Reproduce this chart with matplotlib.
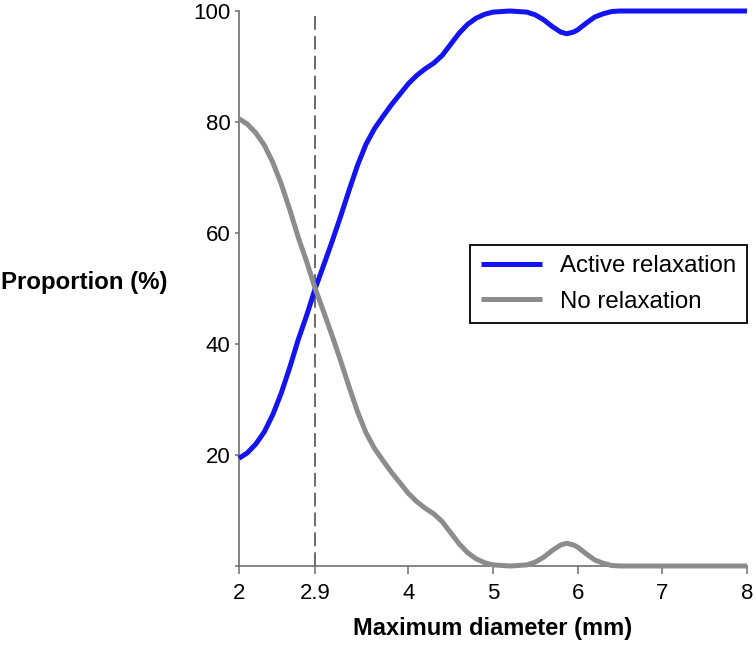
import matplotlib
matplotlib.use('Agg')
import matplotlib.pyplot as plt

plt.rcParams['font.family'] = ['Liberation Sans', 'DejaVu Sans']

# maximum diameter (mm)
diameter = [2.0, 2.1, 2.2, 2.3, 2.4, 2.5, 2.6, 2.7, 2.8, 2.9,
            3.0, 3.1, 3.2, 3.3, 3.4, 3.5, 3.6, 3.7, 3.8, 3.9,
            4.0, 4.1, 4.2, 4.3, 4.4, 4.5, 4.6, 4.7, 4.8, 4.9,
            5.0, 5.2, 5.4, 5.5, 5.6, 5.7, 5.8, 5.87, 5.95, 6.0,
            6.1, 6.2, 6.3, 6.4, 6.5, 7.0, 8.0]

# proportion (%) with active relaxation
active = [19.4, 20.4, 22.0, 24.2, 27.3, 31.2, 35.8, 40.8, 45.2, 50.0,
          54.2, 58.5, 63.0, 67.7, 72.2, 76.0, 78.8, 81.0, 83.1, 85.0,
          86.9, 88.4, 89.6, 90.6, 92.0, 94.0, 96.0, 97.6, 98.7, 99.4,
          99.8, 100.0, 99.8, 99.3, 98.4, 97.2, 96.2, 95.9, 96.2, 96.6,
          97.8, 98.9, 99.5, 99.9, 100.0, 100.0, 100.0]

# proportion (%) with no relaxation
no_relax = [80.6, 79.6, 78.0, 75.8, 72.7, 68.8, 64.2, 59.2, 54.8, 50.0,
            45.8, 41.5, 37.0, 32.3, 27.8, 24.0, 21.2, 19.0, 16.9, 15.0,
            13.1, 11.6, 10.4, 9.4, 8.0, 6.0, 4.0, 2.4, 1.3, 0.6,
            0.2, 0.0, 0.2, 0.7, 1.6, 2.8, 3.8, 4.1, 3.8, 3.4,
            2.2, 1.1, 0.5, 0.1, 0.0, 0.0, 0.0]

cutoff = 2.9
x_ticks = [2, 2.9, 4, 5, 6, 7, 8]
x_tick_labels = ['2', '2.9', '4', '5', '6', '7', '8']
y_ticks = [0, 20, 40, 60, 80, 100]
y_tick_labels = ['', '20', '40', '60', '80', '100']

fig = plt.figure(figsize=(7.56, 6.45), dpi=100)
ax = fig.add_axes([239 / 756, 1 - 566 / 645, 508 / 756, 555 / 645])

ax.plot(diameter, active, color='#1414f0', lw=3.6, label='Active relaxation',
        clip_on=False, solid_capstyle='butt', solid_joinstyle='round', zorder=3)
ax.plot(diameter, no_relax, color='#8c8c8c', lw=3.6, label='No relaxation',
        clip_on=False, solid_capstyle='butt', solid_joinstyle='round', zorder=3)

# cut-off line
ax.plot([cutoff, cutoff], [0, 100], color='#444444', lw=1.1,
        linestyle=(0, (9, 4)), clip_on=False, zorder=2)

ax.set_xlim(2, 8)
ax.set_ylim(0, 100)
ax.set_xticks(x_ticks)
ax.set_xticklabels(x_tick_labels)
ax.set_yticks(y_ticks)
ax.set_yticklabels(y_tick_labels)

for side in ['top', 'right']:
    ax.spines[side].set_visible(False)
for side in ['left', 'bottom']:
    ax.spines[side].set_color('#6e6e6e')
    ax.spines[side].set_linewidth(1.2)

ax.tick_params(axis='x', direction='out', length=6, width=1.1, color='#6e6e6e',
               labelsize=16, pad=6)
ax.tick_params(axis='y', direction='out', length=3, width=1.1, color='#6e6e6e',
               labelsize=16, pad=3)

leg = ax.legend(loc='upper right', bbox_to_anchor=(1.0, 0.579), borderaxespad=0,
                fancybox=False, edgecolor='black', fontsize=17.3,
                handlelength=2.55, handletextpad=0.75, borderpad=0.45,
                labelspacing=0.55, framealpha=1)
leg.get_frame().set_linewidth(1.3)

fig.text(84 / 756, 1 - 283 / 645, 'Proportion (%)', ha='center', va='center',
         fontsize=17.3, fontweight='bold')
fig.text(493 / 756, 1 - 629 / 645, 'Maximum diameter (mm)', ha='center', va='center',
         fontsize=17, fontweight='bold')

fig.savefig('out.png', dpi=100)
